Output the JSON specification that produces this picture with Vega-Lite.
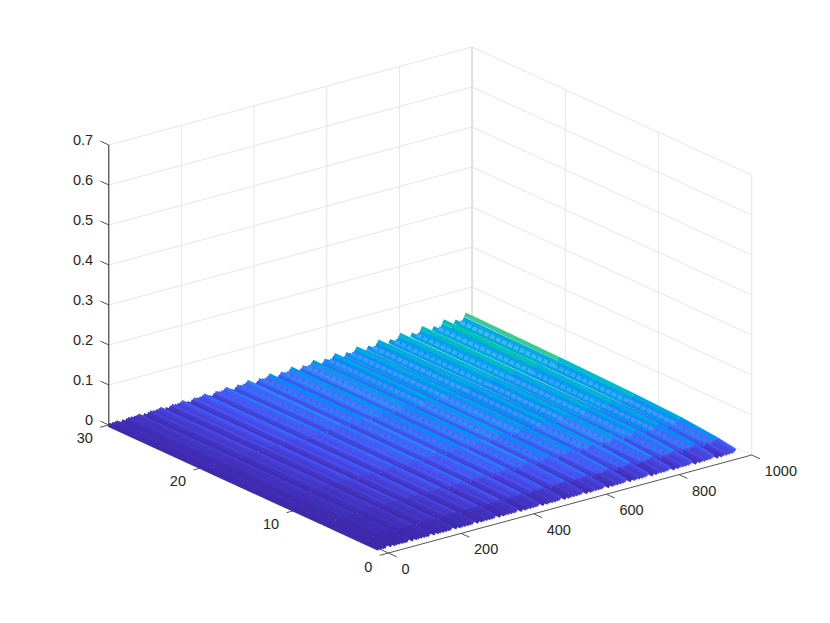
{"$schema":"https://vega.github.io/schema/vega-lite/v6.json","width":830,"height":623,"padding":0,"autosize":{"type":"none"},"background":"white","config":{"view":{"stroke":null}},
"datasets":{
"lines":[
{"k":"g","x":0,"y":30,"z":0,"x2":0,"y2":30,"z2":0.7},{"k":"g","x":200,"y":30,"z":0,"x2":200,"y2":30,"z2":0.7},{"k":"g","x":400,"y":30,"z":0,"x2":400,"y2":30,"z2":0.7},{"k":"g","x":600,"y":30,"z":0,"x2":600,"y2":30,"z2":0.7},{"k":"g","x":800,"y":30,"z":0,"x2":800,"y2":30,"z2":0.7},{"k":"c","x":1000,"y":30,"z":0,"x2":1000,"y2":30,"z2":0.7},
{"k":"g","x":1000,"y":0,"z":0,"x2":1000,"y2":0,"z2":0.7},{"k":"g","x":1000,"y":10,"z":0,"x2":1000,"y2":10,"z2":0.7},{"k":"g","x":1000,"y":20,"z":0,"x2":1000,"y2":20,"z2":0.7},
{"k":"g","x":0,"y":30,"z":0.1,"x2":1000,"y2":30,"z2":0.1},{"k":"g","x":0,"y":30,"z":0.2,"x2":1000,"y2":30,"z2":0.2},{"k":"g","x":0,"y":30,"z":0.3,"x2":1000,"y2":30,"z2":0.3},{"k":"g","x":0,"y":30,"z":0.4,"x2":1000,"y2":30,"z2":0.4},{"k":"g","x":0,"y":30,"z":0.5,"x2":1000,"y2":30,"z2":0.5},{"k":"g","x":0,"y":30,"z":0.6,"x2":1000,"y2":30,"z2":0.6},{"k":"g","x":0,"y":30,"z":0.7,"x2":1000,"y2":30,"z2":0.7},{"k":"g","x":0,"y":30,"z":0,"x2":1000,"y2":30,"z2":0},
{"k":"g","x":1000,"y":0,"z":0.1,"x2":1000,"y2":30,"z2":0.1},{"k":"g","x":1000,"y":0,"z":0.2,"x2":1000,"y2":30,"z2":0.2},{"k":"g","x":1000,"y":0,"z":0.3,"x2":1000,"y2":30,"z2":0.3},{"k":"g","x":1000,"y":0,"z":0.4,"x2":1000,"y2":30,"z2":0.4},{"k":"g","x":1000,"y":0,"z":0.5,"x2":1000,"y2":30,"z2":0.5},{"k":"g","x":1000,"y":0,"z":0.6,"x2":1000,"y2":30,"z2":0.6},{"k":"g","x":1000,"y":0,"z":0.7,"x2":1000,"y2":30,"z2":0.7},{"k":"g","x":1000,"y":0,"z":0,"x2":1000,"y2":30,"z2":0},
{"k":"a","x":0,"y":0,"z":0,"x2":1000,"y2":0,"z2":0},{"k":"a","x":0,"y":0,"z":0,"x2":0,"y2":30,"z2":0},
{"k":"t","x":0,"y":0,"z":0,"x2":0,"y2":-0.9,"z2":0},{"k":"t","x":200,"y":0,"z":0,"x2":200,"y2":-0.9,"z2":0},{"k":"t","x":400,"y":0,"z":0,"x2":400,"y2":-0.9,"z2":0},{"k":"t","x":600,"y":0,"z":0,"x2":600,"y2":-0.9,"z2":0},{"k":"t","x":800,"y":0,"z":0,"x2":800,"y2":-0.9,"z2":0},{"k":"t","x":1000,"y":0,"z":0,"x2":1000,"y2":-0.9,"z2":0},
{"k":"t","x":0,"y":0,"z":0,"x2":-24,"y2":0,"z2":0},{"k":"t","x":0,"y":10,"z":0,"x2":-24,"y2":10,"z2":0},{"k":"t","x":0,"y":20,"z":0,"x2":-24,"y2":20,"z2":0},{"k":"t","x":0,"y":30,"z":0,"x2":-24,"y2":30,"z2":0},
{"k":"t","x":0,"y":30,"z":0,"x2":0,"y2":30.9,"z2":0},{"k":"t","x":0,"y":30,"z":0.1,"x2":0,"y2":30.9,"z2":0.1},{"k":"t","x":0,"y":30,"z":0.2,"x2":0,"y2":30.9,"z2":0.2},{"k":"t","x":0,"y":30,"z":0.3,"x2":0,"y2":30.9,"z2":0.3},{"k":"t","x":0,"y":30,"z":0.4,"x2":0,"y2":30.9,"z2":0.4},{"k":"t","x":0,"y":30,"z":0.5,"x2":0,"y2":30.9,"z2":0.5},{"k":"t","x":0,"y":30,"z":0.6,"x2":0,"y2":30.9,"z2":0.6},{"k":"t","x":0,"y":30,"z":0.7,"x2":0,"y2":30.9,"z2":0.7},
{"k":"z","x":0,"y":30,"z":0,"x2":0,"y2":30,"z2":0.7}
],
"labels":[
{"k":"z","t":"0","x":0,"y":30,"z":0},{"k":"z","t":"0.1","x":0,"y":30,"z":0.1},{"k":"z","t":"0.2","x":0,"y":30,"z":0.2},{"k":"z","t":"0.3","x":0,"y":30,"z":0.3},{"k":"z","t":"0.4","x":0,"y":30,"z":0.4},{"k":"z","t":"0.5","x":0,"y":30,"z":0.5},{"k":"z","t":"0.6","x":0,"y":30,"z":0.6},{"k":"z","t":"0.7","x":0,"y":30,"z":0.7},
{"k":"x","t":"0","x":0,"y":0,"z":0},{"k":"x","t":"200","x":200,"y":0,"z":0},{"k":"x","t":"400","x":400,"y":0,"z":0},{"k":"x","t":"600","x":600,"y":0,"z":0},{"k":"x","t":"800","x":800,"y":0,"z":0},{"k":"x","t":"1000","x":1000,"y":0,"z":0},
{"k":"y","t":"0","x":0,"y":0,"z":0},{"k":"y","t":"10","x":0,"y":10,"z":0},{"k":"y","t":"20","x":0,"y":20,"z":0},{"k":"y","t":"30","x":0,"y":30,"z":0}
],
"strips":[
{"x":980,"y1":4.3,"y3":12.6,"y7":21.6,"y12":27,"y20":32.4,"y30":36},{"x":975,"y1":3.1,"y3":9.1,"y7":15.5,"y12":19.4,"y20":23.3,"y30":25.9},{"x":968,"y1":2.4,"y3":7.1,"y7":12.1,"y12":15.2,"y20":18.2,"y30":20.2},{"x":960,"y1":2.2,"y3":6.5,"y7":11.2,"y12":14,"y20":16.8,"y30":18.7},{"x":952,"y1":3,"y3":8.8,"y7":15.1,"y12":18.9,"y20":22.7,"y30":25.2},{"x":946,"y1":1.6,"y3":4.6,"y7":7.8,"y12":9.8,"y20":11.7,"y30":13},{"x":935,"y1":0.9,"y3":2.8,"y7":4.7,"y12":5.9,"y20":7.1,"y30":7.9},
{"x":920,"y1":4.1,"y3":11.9,"y7":20.3,"y12":25.4,"y20":30.5,"y30":33.9},{"x":915,"y1":2.9,"y3":8.5,"y7":14.6,"y12":18.3,"y20":22,"y30":24.4},{"x":908,"y1":2.3,"y3":6.7,"y7":11.4,"y12":14.3,"y20":17.1,"y30":19},{"x":900,"y1":2.1,"y3":6.2,"y7":10.6,"y12":13.2,"y20":15.8,"y30":17.6},{"x":892,"y1":2.8,"y3":8.3,"y7":14.2,"y12":17.8,"y20":21.3,"y30":23.7},{"x":886,"y1":1.5,"y3":4.3,"y7":7.4,"y12":9.2,"y20":11,"y30":12.2},{"x":875,"y1":0.9,"y3":2.6,"y7":4.5,"y12":5.6,"y20":6.7,"y30":7.4},
{"x":860,"y1":3.8,"y3":11.1,"y7":19,"y12":23.8,"y20":28.5,"y30":31.7},{"x":855,"y1":2.7,"y3":8,"y7":13.7,"y12":17.1,"y20":20.5,"y30":22.8},{"x":848,"y1":2.1,"y3":6.2,"y7":10.7,"y12":13.4,"y20":16,"y30":17.8},{"x":840,"y1":2,"y3":5.8,"y7":9.9,"y12":12.4,"y20":14.9,"y30":16.5},{"x":832,"y1":2.7,"y3":7.8,"y7":13.3,"y12":16.7,"y20":20,"y30":22.2},{"x":826,"y1":1.4,"y3":4,"y7":6.8,"y12":8.6,"y20":10.3,"y30":11.4},{"x":815,"y1":0.8,"y3":2.4,"y7":4.2,"y12":5.2,"y20":6.3,"y30":6.9},
{"x":800,"y1":3.6,"y3":10.4,"y7":17.8,"y12":22.2,"y20":26.6,"y30":29.6},{"x":795,"y1":2.6,"y3":7.5,"y7":12.8,"y12":16,"y20":19.2,"y30":21.3},{"x":788,"y1":2,"y3":5.8,"y7":10,"y12":12.5,"y20":14.9,"y30":16.6},{"x":780,"y1":1.8,"y3":5.4,"y7":9.2,"y12":11.6,"y20":13.9,"y30":15.4},{"x":772,"y1":2.5,"y3":7.2,"y7":12.4,"y12":15.5,"y20":18.6,"y30":20.7},{"x":766,"y1":1.3,"y3":3.8,"y7":6.4,"y12":8,"y20":9.6,"y30":10.7},{"x":755,"y1":0.8,"y3":2.3,"y7":3.9,"y12":4.9,"y20":5.8,"y30":6.5},
{"x":740,"y1":3.3,"y3":9.6,"y7":16.4,"y12":20.6,"y20":24.7,"y30":27.4},{"x":735,"y1":2.4,"y3":6.9,"y7":11.8,"y12":14.8,"y20":17.7,"y30":19.7},{"x":728,"y1":1.8,"y3":5.4,"y7":9.2,"y12":11.5,"y20":13.8,"y30":15.3},{"x":720,"y1":1.7,"y3":5,"y7":8.5,"y12":10.7,"y20":12.8,"y30":14.2},{"x":712,"y1":2.3,"y3":6.7,"y7":11.5,"y12":14.4,"y20":17.3,"y30":19.2},{"x":706,"y1":1.2,"y3":3.5,"y7":5.9,"y12":7.4,"y20":8.9,"y30":9.9},{"x":695,"y1":0.7,"y3":2.1,"y7":3.6,"y12":4.5,"y20":5.4,"y30":6},
{"x":680,"y1":3,"y3":8.9,"y7":15.2,"y12":19,"y20":22.8,"y30":25.3},{"x":675,"y1":2.2,"y3":6.4,"y7":10.9,"y12":13.7,"y20":16.4,"y30":18.2},{"x":668,"y1":1.7,"y3":5,"y7":8.5,"y12":10.7,"y20":12.8,"y30":14.2},{"x":660,"y1":1.6,"y3":4.6,"y7":7.9,"y12":9.9,"y20":11.9,"y30":13.2},{"x":652,"y1":2.1,"y3":6.2,"y7":10.6,"y12":13.3,"y20":15.9,"y30":17.7},{"x":646,"y1":1.1,"y3":3.2,"y7":5.5,"y12":6.8,"y20":8.2,"y30":9.1},{"x":635,"y1":0.7,"y3":2,"y7":3.4,"y12":4.2,"y20":5,"y30":5.5},
{"x":620,"y1":2.8,"y3":8.1,"y7":13.9,"y12":17.3,"y20":20.8,"y30":23.1},{"x":615,"y1":2,"y3":5.8,"y7":10,"y12":12.5,"y20":14.9,"y30":16.6},{"x":608,"y1":1.5,"y3":4.5,"y7":7.7,"y12":9.7,"y20":11.6,"y30":12.9},{"x":600,"y1":1.4,"y3":4.2,"y7":7.2,"y12":9,"y20":10.8,"y30":12},{"x":592,"y1":1.9,"y3":5.7,"y7":9.7,"y12":12.2,"y20":14.6,"y30":16.2},{"x":586,"y1":1,"y3":2.9,"y7":5,"y12":6.2,"y20":7.5,"y30":8.3},{"x":575,"y1":0.6,"y3":1.8,"y7":3,"y12":3.8,"y20":4.5,"y30":5},
{"x":560,"y1":2.5,"y3":7.4,"y7":12.6,"y12":15.8,"y20":18.9,"y30":21},{"x":555,"y1":1.8,"y3":5.3,"y7":9.1,"y12":11.3,"y20":13.6,"y30":15.1},{"x":548,"y1":1.4,"y3":4.1,"y7":7.1,"y12":8.9,"y20":10.6,"y30":11.8},{"x":540,"y1":1.3,"y3":3.8,"y7":6.5,"y12":8.2,"y20":9.8,"y30":10.9},{"x":532,"y1":1.8,"y3":5.1,"y7":8.8,"y12":11,"y20":13.2,"y30":14.7},{"x":526,"y1":0.9,"y3":2.6,"y7":4.6,"y12":5.7,"y20":6.8,"y30":7.6},{"x":515,"y1":0.6,"y3":1.6,"y7":2.8,"y12":3.4,"y20":4.2,"y30":4.6},
{"x":500,"y1":2.3,"y3":6.6,"y7":11.3,"y12":14.2,"y20":17,"y30":18.9},{"x":495,"y1":1.6,"y3":4.8,"y7":8.2,"y12":10.2,"y20":12.2,"y30":13.6},{"x":488,"y1":1.3,"y3":3.7,"y7":6.4,"y12":8,"y20":9.5,"y30":10.6},{"x":480,"y1":1.2,"y3":3.4,"y7":5.9,"y12":7.4,"y20":8.8,"y30":9.8},{"x":472,"y1":1.6,"y3":4.6,"y7":7.9,"y12":9.9,"y20":11.9,"y30":13.2},{"x":466,"y1":0.8,"y3":2.4,"y7":4.1,"y12":5.1,"y20":6.2,"y30":6.8},{"x":455,"y1":0.5,"y3":1.5,"y7":2.5,"y12":3.1,"y20":3.7,"y30":4.2},
{"x":440,"y1":2,"y3":5.8,"y7":10,"y12":12.5,"y20":15,"y30":16.7},{"x":435,"y1":1.4,"y3":4.2,"y7":7.2,"y12":9,"y20":10.8,"y30":12},{"x":428,"y1":1.1,"y3":3.3,"y7":5.6,"y12":7.1,"y20":8.5,"y30":9.4},{"x":420,"y1":1,"y3":3,"y7":5.2,"y12":6.5,"y20":7.8,"y30":8.7},{"x":412,"y1":1.4,"y3":4.1,"y7":7,"y12":8.8,"y20":10.5,"y30":11.7},{"x":406,"y1":0.8,"y3":2.1,"y7":3.6,"y12":4.5,"y20":5.4,"y30":6},{"x":395,"y1":0.4,"y3":1.3,"y7":2.2,"y12":2.8,"y20":3.3,"y30":3.7},
{"x":380,"y1":1.8,"y3":5.1,"y7":8.8,"y12":11,"y20":13.1,"y30":14.6},{"x":375,"y1":1.3,"y3":3.7,"y7":6.3,"y12":7.9,"y20":9.5,"y30":10.5},{"x":368,"y1":1,"y3":2.9,"y7":4.9,"y12":6.2,"y20":7.4,"y30":8.2},{"x":360,"y1":0.9,"y3":2.7,"y7":4.6,"y12":5.7,"y20":6.8,"y30":7.6},{"x":352,"y1":1.2,"y3":3.6,"y7":6.1,"y12":7.7,"y20":9.2,"y30":10.2},{"x":346,"y1":0.6,"y3":1.9,"y7":3.2,"y12":4,"y20":4.7,"y30":5.3},{"x":335,"y1":0.4,"y3":1.1,"y7":1.9,"y12":2.4,"y20":2.9,"y30":3.2},
{"x":320,"y1":1.5,"y3":4.3,"y7":7.4,"y12":9.3,"y20":11.2,"y30":12.4},{"x":315,"y1":1.1,"y3":3.1,"y7":5.3,"y12":6.7,"y20":8,"y30":8.9},{"x":308,"y1":0.8,"y3":2.4,"y7":4.1,"y12":5.2,"y20":6.2,"y30":6.9},{"x":300,"y1":0.8,"y3":2.2,"y7":3.8,"y12":4.8,"y20":5.8,"y30":6.4},{"x":292,"y1":1,"y3":3,"y7":5.2,"y12":6.5,"y20":7.8,"y30":8.7},{"x":286,"y1":0.5,"y3":1.6,"y7":2.7,"y12":3.4,"y20":4.1,"y30":4.5},{"x":275,"y1":0.3,"y3":0.9,"y7":1.6,"y12":2,"y20":2.4,"y30":2.7},
{"x":260,"y1":1.2,"y3":3.6,"y7":6.2,"y12":7.7,"y20":9.3,"y30":10.3},{"x":255,"y1":0.9,"y3":2.6,"y7":4.4,"y12":5.6,"y20":6.7,"y30":7.4},{"x":248,"y1":0.7,"y3":2,"y7":3.5,"y12":4.4,"y20":5.2,"y30":5.8},{"x":240,"y1":0.6,"y3":1.9,"y7":3.2,"y12":4.1,"y20":4.9,"y30":5.4},{"x":232,"y1":0.9,"y3":2.5,"y7":4.3,"y12":5.4,"y20":6.5,"y30":7.2},{"x":226,"y1":0.5,"y3":1.3,"y7":2.2,"y12":2.8,"y20":3.3,"y30":3.7},{"x":215,"y1":0.3,"y3":0.8,"y7":1.4,"y12":1.7,"y20":2,"y30":2.3},
{"x":200,"y1":1,"y3":2.8,"y7":4.9,"y12":6.1,"y20":7.3,"y30":8.1},{"x":195,"y1":0.7,"y3":2,"y7":3.5,"y12":4.4,"y20":5.2,"y30":5.8},{"x":188,"y1":0.5,"y3":1.6,"y7":2.7,"y12":3.4,"y20":4.1,"y30":4.5},{"x":180,"y1":0.5,"y3":1.5,"y7":2.5,"y12":3.2,"y20":3.8,"y30":4.2},{"x":172,"y1":0.7,"y3":2,"y7":3.4,"y12":4.3,"y20":5.1,"y30":5.7},{"x":166,"y1":0.4,"y3":1.1,"y7":1.7,"y12":2.2,"y20":2.6,"y30":2.9},{"x":155,"y1":0.2,"y3":0.6,"y7":1,"y12":1.3,"y20":1.6,"y30":1.8},
{"x":140,"y1":0.7,"y3":2.1,"y7":3.6,"y12":4.5,"y20":5.4,"y30":6},{"x":135,"y1":0.5,"y3":1.5,"y7":2.6,"y12":3.2,"y20":3.9,"y30":4.3},{"x":128,"y1":0.4,"y3":1.2,"y7":2,"y12":2.6,"y20":3.1,"y30":3.4},{"x":120,"y1":0.4,"y3":1.1,"y7":1.9,"y12":2.3,"y20":2.8,"y30":3.1},{"x":112,"y1":0.5,"y3":1.5,"y7":2.5,"y12":3.2,"y20":3.8,"y30":4.2},{"x":106,"y1":0.2,"y3":0.8,"y7":1.3,"y12":1.7,"y20":2,"y30":2.2},{"x":95,"y1":0.1,"y3":0.4,"y7":0.8,"y12":1,"y20":1.2,"y30":1.3},
{"x":80,"y1":0.5,"y3":1.4,"y7":2.3,"y12":2.9,"y20":3.5,"y30":3.9},{"x":75,"y1":0.3,"y3":1,"y7":1.7,"y12":2.1,"y20":2.5,"y30":2.8},{"x":68,"y1":0.3,"y3":0.8,"y7":1.3,"y12":1.7,"y20":2,"y30":2.2},{"x":60,"y1":0.2,"y3":0.7,"y7":1.2,"y12":1.5,"y20":1.8,"y30":2},{"x":52,"y1":0.3,"y3":0.9,"y7":1.6,"y12":2,"y20":2.4,"y30":2.7},{"x":46,"y1":0.2,"y3":0.5,"y7":0.8,"y12":1.1,"y20":1.3,"y30":1.4},{"x":35,"y1":0.1,"y3":0.3,"y7":0.5,"y12":0.7,"y20":0.8,"y30":0.9},
{"x":20,"y1":0.2,"y3":0.6,"y7":1,"y12":1.3,"y20":1.5,"y30":1.7},{"x":15,"y1":0.1,"y3":0.4,"y7":0.7,"y12":0.9,"y20":1.1,"y30":1.2},{"x":8,"y1":0.1,"y3":0.4,"y7":0.6,"y12":0.8,"y20":0.9,"y30":1},{"x":0,"y1":0.1,"y3":0.2,"y7":0.3,"y12":0.4,"y20":0.5,"y30":0.6}
]},
"layer":[
{"data":{"name":"lines"},"transform":[{"filter":"datum.k==='g'"},{"calculate":"388.4+0.3633*datum.x-9.32*datum.y","as":"px"},{"calculate":"553-0.098*datum.x-4.267*datum.y-400*datum.z","as":"py"},{"calculate":"388.4+0.3633*datum.x2-9.32*datum.y2","as":"qx"},{"calculate":"553-0.098*datum.x2-4.267*datum.y2-400*datum.z2","as":"qy"}],
"mark":{"type":"rule","stroke":"#e6e6e6","strokeWidth":1},
"encoding":{"x":{"field":"px","type":"quantitative","scale":{"domain":[0,830],"nice":false,"zero":false},"axis":null},"y":{"field":"py","type":"quantitative","scale":{"domain":[623,0],"nice":false,"zero":false},"axis":null},"x2":{"field":"qx"},"y2":{"field":"qy"}}},
{"data":{"name":"lines"},"transform":[{"filter":"datum.k==='c'"},{"calculate":"388.4+0.3633*datum.x-9.32*datum.y","as":"px"},{"calculate":"553-0.098*datum.x-4.267*datum.y-400*datum.z","as":"py"},{"calculate":"388.4+0.3633*datum.x2-9.32*datum.y2","as":"qx"},{"calculate":"553-0.098*datum.x2-4.267*datum.y2-400*datum.z2","as":"qy"}],
"mark":{"type":"rule","stroke":"#e0e0e0","strokeWidth":2},
"encoding":{"x":{"field":"px","type":"quantitative"},"y":{"field":"py","type":"quantitative"},"x2":{"field":"qx"},"y2":{"field":"qy"}}},
{"data":{"name":"lines"},"transform":[{"filter":"datum.k==='a'||datum.k==='t'"},{"calculate":"388.4+0.3633*datum.x-9.32*datum.y","as":"px"},{"calculate":"553-0.098*datum.x-4.267*datum.y-400*datum.z","as":"py"},{"calculate":"388.4+0.3633*datum.x2-9.32*datum.y2","as":"qx"},{"calculate":"553-0.098*datum.x2-4.267*datum.y2-400*datum.z2","as":"qy"}],
"mark":{"type":"rule","stroke":"#555555","strokeWidth":1},
"encoding":{"x":{"field":"px","type":"quantitative"},"y":{"field":"py","type":"quantitative"},"x2":{"field":"qx"},"y2":{"field":"qy"}}},
{"data":{"name":"strips"},"transform":[{"fold":["y1","y3","y7","y12","y20","y30"],"as":["key","milli"]},{"calculate":"toNumber(substring(datum.key,1))","as":"yv"},{"calculate":"datum.milli/1000","as":"zv"},{"window":[{"op":"lead","field":"yv","as":"yn"},{"op":"lead","field":"zv","as":"zn"}],"groupby":["x"],"sort":[{"field":"yv","order":"ascending"}]},{"filter":"datum.yn!=null"},{"calculate":"388.4+0.3633*datum.x-9.32*datum.yv","as":"px"},{"calculate":"553-0.098*datum.x-4.267*datum.yv-400*datum.zv","as":"py"},{"calculate":"388.4+0.3633*datum.x-9.32*datum.yn","as":"qx"},{"calculate":"553-0.098*datum.x-4.267*datum.yn-400*datum.zn","as":"qy"},{"calculate":"(datum.zv+datum.zn)/2","as":"zm"},{"calculate":"-100*datum.x-datum.yv","as":"ord"}],
"mark":{"type":"rule","strokeWidth":4.5,"strokeCap":"butt"},
"encoding":{"x":{"field":"px","type":"quantitative"},"y":{"field":"py","type":"quantitative"},"x2":{"field":"qx"},"y2":{"field":"qy"},"order":{"field":"ord","type":"quantitative"},"color":{"field":"zm","type":"quantitative","legend":null,"scale":{"domain":[0,0.0065,0.014,0.027,0.034,0.0375],"range":["#3e26a8","#4852f4","#2e87f7","#12b1d6","#37c897","#abc739"]}}}},
{"data":{"name":"strips"},"transform":[{"filter":"(datum.x-8)%60===0&&datum.x>=300"},{"fold":["y1","y3","y7","y12","y20","y30"],"as":["key","milli"]},{"calculate":"toNumber(substring(datum.key,1))","as":"yv"},{"calculate":"datum.milli/1000","as":"zv"},{"window":[{"op":"lead","field":"yv","as":"yn"},{"op":"lead","field":"zv","as":"zn"}],"groupby":["x"],"sort":[{"field":"yv","order":"ascending"}]},{"filter":"datum.yn!=null"},{"calculate":"388.4+0.3633*datum.x-9.32*datum.yv","as":"px"},{"calculate":"553-0.098*datum.x-4.267*datum.yv-400*datum.zv","as":"py"},{"calculate":"388.4+0.3633*datum.x-9.32*datum.yn","as":"qx"},{"calculate":"553-0.098*datum.x-4.267*datum.yn-400*datum.zn","as":"qy"},{"calculate":"(datum.zv+datum.zn)/2","as":"zm"}],
"mark":{"type":"rule","strokeWidth":4,"stroke":"#ffffff","strokeDash":[5,1.5]},
"encoding":{"x":{"field":"px","type":"quantitative"},"y":{"field":"py","type":"quantitative"},"x2":{"field":"qx"},"y2":{"field":"qy"},"opacity":{"field":"zm","type":"quantitative","legend":null,"scale":{"domain":[0.004,0.02],"range":[0,0.25],"clamp":true}}}},
{"data":{"name":"lines"},"transform":[{"filter":"datum.k==='z'"},{"calculate":"388.4+0.3633*datum.x-9.32*datum.y","as":"px"},{"calculate":"553-0.098*datum.x-4.267*datum.y-400*datum.z","as":"py"},{"calculate":"388.4+0.3633*datum.x2-9.32*datum.y2","as":"qx"},{"calculate":"553-0.098*datum.x2-4.267*datum.y2-400*datum.z2","as":"qy"}],
"mark":{"type":"rule","stroke":"#262626","strokeWidth":1},
"encoding":{"x":{"field":"px","type":"quantitative"},"y":{"field":"py","type":"quantitative"},"x2":{"field":"qx"},"y2":{"field":"qy"}}},
{"data":{"name":"labels"},"transform":[{"filter":"datum.k==='z'"},{"calculate":"388.4+0.3633*datum.x-9.32*datum.y","as":"px"},{"calculate":"553-0.098*datum.x-4.267*datum.y-400*datum.z","as":"py"}],
"mark":{"type":"text","align":"right","baseline":"middle","dx":-15.7,"dy":-4,"font":"Liberation Sans","fontSize":14.5,"fill":"#262626"},
"encoding":{"x":{"field":"px","type":"quantitative"},"y":{"field":"py","type":"quantitative"},"text":{"field":"t"}}},
{"data":{"name":"labels"},"transform":[{"filter":"datum.k==='x'"},{"calculate":"388.4+0.3633*datum.x-9.32*datum.y","as":"px"},{"calculate":"553-0.098*datum.x-4.267*datum.y-400*datum.z","as":"py"}],
"mark":{"type":"text","align":"left","baseline":"middle","dx":13,"dy":17,"font":"Liberation Sans","fontSize":14.5,"fill":"#262626"},
"encoding":{"x":{"field":"px","type":"quantitative"},"y":{"field":"py","type":"quantitative"},"text":{"field":"t"}}},
{"data":{"name":"labels"},"transform":[{"filter":"datum.k==='y'"},{"calculate":"388.4+0.3633*datum.x-9.32*datum.y","as":"px"},{"calculate":"553-0.098*datum.x-4.267*datum.y-400*datum.z","as":"py"}],
"mark":{"type":"text","align":"right","baseline":"middle","dx":-16,"dy":14.5,"font":"Liberation Sans","fontSize":14.5,"fill":"#262626"},
"encoding":{"x":{"field":"px","type":"quantitative"},"y":{"field":"py","type":"quantitative"},"text":{"field":"t"}}}
]}
